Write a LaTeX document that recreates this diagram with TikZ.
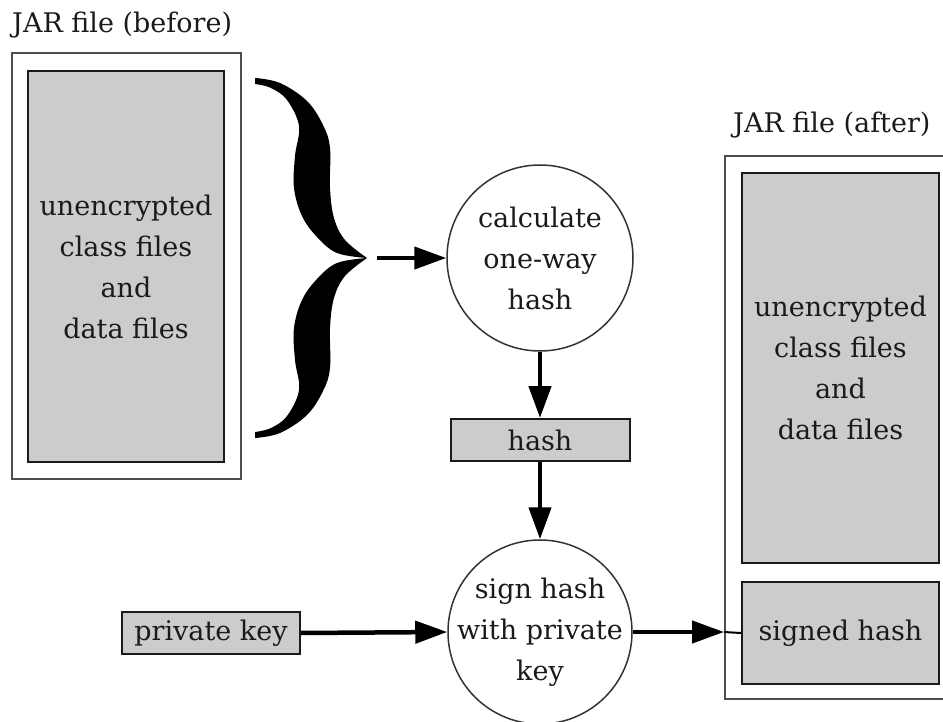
\documentclass[tikz,border=0pt]{standalone}
\usepackage{fontspec}
\setmainfont{DejaVu Serif}
\usetikzlibrary{arrows.meta}
\definecolor{boxgray}{HTML}{CCCCCC}
\definecolor{framegray}{HTML}{4D4D4D}
\definecolor{inkgray}{HTML}{1A1A1A}
\tikzset{
  txt/.style={font=\fontsize{27}{41}\selectfont, text=inkgray, align=center},
  jarframe/.style={draw=framegray, line width=2pt, inner sep=0pt},
  filebox/.style={draw=inkgray, fill=boxgray, line width=2pt, inner sep=0pt, txt},
  process/.style={circle, draw=black!80, line width=1.5pt, inner sep=-20pt, txt},
  flow/.style={draw=black, line width=4.5pt, -{Triangle[length=32pt,width=22pt]}},
}
\begin{document}
\begin{tikzpicture}[x=1pt,y=-1pt]
\useasboundingbox (0,0) rectangle (943,722);

% JAR file before signing
\node[txt, anchor=base west, inner sep=0pt] (beforetitle) at (12,33) {JAR file (before)};
\node[jarframe, minimum width=229pt, minimum height=426pt] (beforejar) at (126.5,266) {};
\node[filebox, minimum width=196pt, minimum height=391pt] (beforedata) at (126,266.5)
  {unencrypted\\class files\\and\\data files};

% curly brace gathering the file contents
\coordinate (bracetip) at (367,258);
\foreach \flip in {1,-1}{
  \fill[black, shift={(bracetip)}, yscale=\flip]
    plot[smooth, tension=0.6] coordinates {(-112,-180) (-87,-175) (-60,-157) (-44,-133) (-37,-110) (-37,-70) (-33,-40) (-22,-18) (0,0)}
    -- plot[smooth, tension=0.6] coordinates {(0,0) (-30,-5) (-50,-21) (-65,-42) (-73,-70) (-72,-102) (-68,-132) (-80,-158) (-96,-170) (-112,-174)}
    -- cycle;
}
\coordinate (braceout) at (377,258);

% processing steps
\node[process, minimum size=186pt] (calc) at (540,258) {calculate\\one-way\\hash};
\node[filebox, minimum width=179pt, minimum height=42pt] (hash) at (540,440) {hash};
\node[process, minimum size=184pt] (sign) at (540,632) {sign hash\\with private\\key};
\node[filebox, minimum width=178pt, minimum height=42pt] (key) at (211,633) {private key};

% JAR file after signing
\node[txt, anchor=base west, inner sep=0pt] (aftertitle) at (733,133) {JAR file (after)};
\node[jarframe, minimum width=226pt, minimum height=543pt] (afterjar) at (838,427.5) {};
\node[filebox, minimum width=197pt, minimum height=390pt] (afterdata) at (840.5,368)
  {unencrypted\\class files\\and\\data files};
\node[filebox, minimum width=197pt, minimum height=102pt] (signed) at (840.5,633) {signed hash};

% connectors
\draw[flow] (braceout) -- (calc.west);
\draw[flow] (calc.south) -- (hash.north);
\draw[flow] (hash.south) -- (sign.north);
\draw[flow] (key.east) -- (sign.west);
\coordinate (entry) at (sign.east -| afterjar.west);
\draw[flow] (sign.east) -- (entry);
\draw[line width=2pt] (entry) -- (signed.west);
\end{tikzpicture}
\end{document}
